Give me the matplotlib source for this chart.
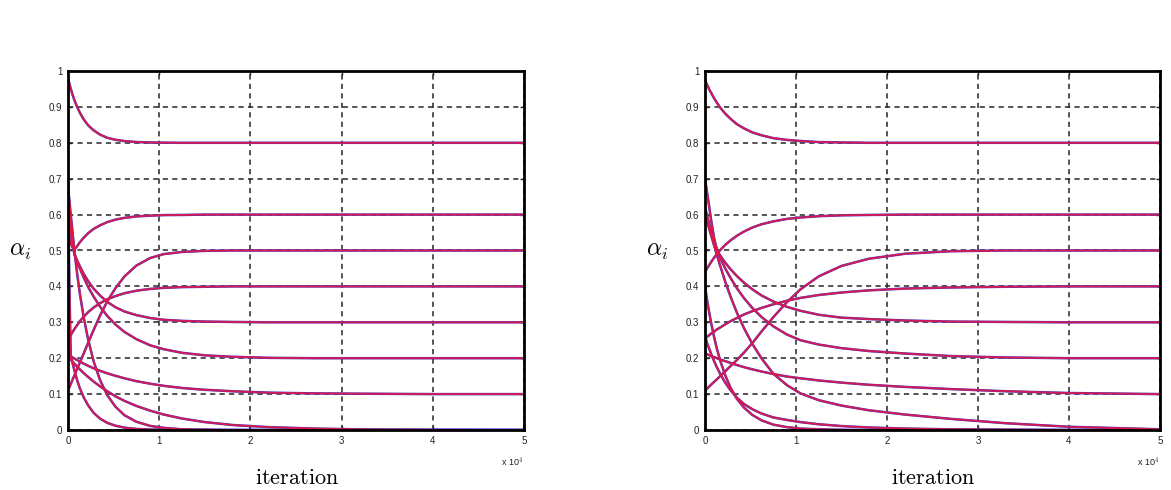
import matplotlib
matplotlib.use("Agg")
import matplotlib.pyplot as plt
from matplotlib.ticker import FuncFormatter

plt.rcParams['mathtext.fontset'] = 'cm'
plt.rcParams['font.family'] = ['Liberation Sans', 'DejaVu Sans']

# iteration sample points (shared by all curves)
iterations = [0, 150, 300, 500, 700, 1000, 1300, 1700, 2200, 2800, 3500, 4300, 5200,
              6200, 7500, 9000, 10500, 12500, 15000, 18000, 22000, 27000, 33000, 40000, 50000]

# ---- left panel: alpha_i estimates ----
left_a1 = [0.980, 0.965, 0.951, 0.934, 0.919, 0.900, 0.884, 0.866, 0.849, 0.835, 0.823, 0.814, 0.8085,
           0.8047, 0.8022, 0.8009, 0.8004, 0.800, 0.800, 0.800, 0.800, 0.800, 0.800, 0.800, 0.800]
left_a2 = [0.550, 0.535, 0.520, 0.508, 0.502, 0.512, 0.523, 0.535, 0.548, 0.560, 0.570, 0.579, 0.586,
           0.591, 0.595, 0.597, 0.5986, 0.599, 0.600, 0.600, 0.600, 0.600, 0.600, 0.600, 0.600]
left_a3 = [0.110, 0.119, 0.128, 0.140, 0.152, 0.170, 0.188, 0.212, 0.242, 0.278, 0.318, 0.358, 0.395,
           0.428, 0.458, 0.479, 0.490, 0.496, 0.499, 0.500, 0.500, 0.500, 0.500, 0.500, 0.500]
left_a4 = [0.250, 0.257, 0.264, 0.273, 0.281, 0.292, 0.303, 0.315, 0.328, 0.341, 0.353, 0.364, 0.373,
           0.381, 0.388, 0.393, 0.396, 0.398, 0.399, 0.400, 0.400, 0.400, 0.400, 0.400, 0.400]
left_a5 = [0.650, 0.615, 0.580, 0.535, 0.490, 0.472, 0.456, 0.436, 0.415, 0.394, 0.375, 0.357, 0.342,
           0.330, 0.320, 0.312, 0.307, 0.304, 0.302, 0.301, 0.300, 0.300, 0.300, 0.300, 0.300]
left_a6 = [0.600, 0.575, 0.550, 0.520, 0.490, 0.469, 0.450, 0.426, 0.399, 0.372, 0.344, 0.318, 0.294,
           0.273, 0.253, 0.236, 0.225, 0.215, 0.208, 0.204, 0.201, 0.200, 0.200, 0.200, 0.200]
left_a7 = [0.210, 0.208, 0.205, 0.202, 0.199, 0.195, 0.191, 0.185, 0.179, 0.172, 0.165, 0.158, 0.151,
           0.144, 0.136, 0.129, 0.123, 0.117, 0.112, 0.108, 0.104, 0.102, 0.101, 0.100, 0.100]
left_a8 = [0.205, 0.201, 0.196, 0.190, 0.185, 0.176, 0.169, 0.159, 0.148, 0.135, 0.122, 0.108, 0.094,
           0.081, 0.067, 0.054, 0.043, 0.032, 0.022, 0.014, 0.008, 0.004, 0.0015, 0.0005, 0.000]
left_a9 = [0.680, 0.640, 0.600, 0.550, 0.500, 0.436, 0.380, 0.317, 0.253, 0.192, 0.140, 0.097, 0.065,
           0.041, 0.023, 0.0115, 0.006, 0.002, 0.001, 0.000, 0.000, 0.000, 0.000, 0.000, 0.000]
left_a10 = [0.700, 0.400, 0.210, 0.186, 0.166, 0.139, 0.116, 0.092, 0.069, 0.048, 0.032, 0.020, 0.012,
            0.0065, 0.003, 0.0013, 0.0005, 0.000, 0.000, 0.000, 0.000, 0.000, 0.000, 0.000, 0.000]

# ---- right panel: alpha_i estimates ----
right_a1 = [0.975, 0.966, 0.958, 0.947, 0.938, 0.924, 0.912, 0.897, 0.882, 0.867, 0.852, 0.840, 0.829,
            0.821, 0.813, 0.808, 0.805, 0.802, 0.801, 0.800, 0.800, 0.800, 0.800, 0.800, 0.800]
right_a2 = [0.440, 0.447, 0.453, 0.461, 0.469, 0.480, 0.490, 0.502, 0.515, 0.528, 0.541, 0.553, 0.564,
            0.573, 0.581, 0.588, 0.592, 0.5955, 0.598, 0.599, 0.600, 0.600, 0.600, 0.600, 0.600]
right_a3 = [0.110, 0.1135, 0.117, 0.122, 0.127, 0.134, 0.141, 0.151, 0.163, 0.178, 0.195, 0.216, 0.242,
            0.274, 0.314, 0.356, 0.392, 0.428, 0.457, 0.477, 0.491, 0.498, 0.500, 0.500, 0.500]
right_a4 = [0.255, 0.258, 0.261, 0.265, 0.269, 0.274, 0.280, 0.286, 0.294, 0.303, 0.312, 0.322, 0.331,
            0.340, 0.350, 0.360, 0.368, 0.376, 0.383, 0.389, 0.394, 0.397, 0.399, 0.400, 0.400]
right_a5 = [0.700, 0.675, 0.650, 0.615, 0.580, 0.535, 0.500, 0.485, 0.467, 0.448, 0.429, 0.410, 0.392,
            0.375, 0.358, 0.343, 0.332, 0.321, 0.313, 0.309, 0.305, 0.302, 0.301, 0.300, 0.300]
right_a6 = [0.620, 0.605, 0.590, 0.570, 0.550, 0.527, 0.505, 0.478, 0.451, 0.424, 0.395, 0.367, 0.340,
            0.315, 0.289, 0.266, 0.250, 0.238, 0.228, 0.220, 0.213, 0.206, 0.202, 0.200, 0.200]
right_a7 = [0.213, 0.2115, 0.210, 0.208, 0.206, 0.203, 0.200, 0.196, 0.192, 0.187, 0.181, 0.175, 0.169,
            0.163, 0.156, 0.149, 0.144, 0.138, 0.132, 0.126, 0.120, 0.114, 0.108, 0.103, 0.100]
right_a8 = [0.600, 0.588, 0.575, 0.557, 0.540, 0.514, 0.488, 0.455, 0.415, 0.372, 0.327, 0.283, 0.240,
            0.200, 0.157, 0.125, 0.102, 0.083, 0.068, 0.055, 0.043, 0.031, 0.019, 0.009, 0.002]
right_a9 = [0.400, 0.375, 0.351, 0.322, 0.295, 0.259, 0.227, 0.191, 0.154, 0.118, 0.087, 0.062, 0.042,
            0.027, 0.015, 0.008, 0.004, 0.002, 0.0006, 0.000, 0.000, 0.000, 0.000, 0.000, 0.000]
right_a10 = [0.260, 0.249, 0.237, 0.224, 0.210, 0.192, 0.175, 0.155, 0.133, 0.111, 0.090, 0.072, 0.058,
             0.046, 0.035, 0.028, 0.022, 0.016, 0.011, 0.007, 0.004, 0.002, 0.001, 0.000, 0.000]

left_series = [left_a1, left_a2, left_a3, left_a4, left_a5, left_a6, left_a7, left_a8, left_a9, left_a10]
right_series = [right_a1, right_a2, right_a3, right_a4, right_a5, right_a6, right_a7, right_a8, right_a9, right_a10]

x_ticks = [0, 10000, 20000, 30000, 40000, 50000]
y_ticks = [0, 0.1, 0.2, 0.3, 0.4, 0.5, 0.6, 0.7, 0.8, 0.9, 1.0]
y_tick_labels = ['0', '0.1', '0.2', '0.3', '0.4', '0.5', '0.6', '0.7', '0.8', '0.9', '1']

fig = plt.figure(figsize=(11.71, 4.90), dpi=100)
ax_left = fig.add_axes([68 / 1171, 60 / 490, 456 / 1171, 359 / 490])
ax_right = fig.add_axes([705 / 1171, 60 / 490, 455 / 1171, 359 / 490])


def style_axes(ax, series_list):
    for ys in series_list:
        ax.plot(iterations, ys, color='#3a3ad0', lw=1.8, solid_joinstyle='round', zorder=3)
    for ys in series_list:
        ax.plot(iterations, ys, color='#ea163e', lw=1.35, alpha=0.88, solid_joinstyle='round', zorder=4)
    ax.set_xlim(0, 50000)
    ax.set_ylim(0, 1)
    ax.set_xticks(x_ticks)
    ax.xaxis.set_major_formatter(FuncFormatter(lambda v, p: '%d' % round(v / 10000)))
    ax.set_yticks(y_ticks)
    ax.set_yticklabels(y_tick_labels)
    ax.tick_params(direction='in', length=3, width=1.0, labelsize=7, colors='#222222',
                   pad=4, top=True, right=True)
    ax.grid(True, linestyle=(0, (3.4, 2.8)), color='#262626', lw=1.1, zorder=1)
    for s in ax.spines.values():
        s.set_linewidth(2.0)
        s.set_color('#000000')
        s.set_zorder(6)
    ax.text(0.998, -0.089, r'x 10$^4$', transform=ax.transAxes, ha='right', va='center',
            fontsize=6.5, color='#222222')
    ax.text(0.502, -0.134, r'$\mathrm{iteration}$', transform=ax.transAxes, ha='center',
            va='center', fontsize=16)
    ax.text(-0.105, 0.5, r'$\alpha_i$', transform=ax.transAxes, ha='center', va='center',
            fontsize=17)


style_axes(ax_left, left_series)
style_axes(ax_right, right_series)

fig.savefig('out.png', dpi=100)
